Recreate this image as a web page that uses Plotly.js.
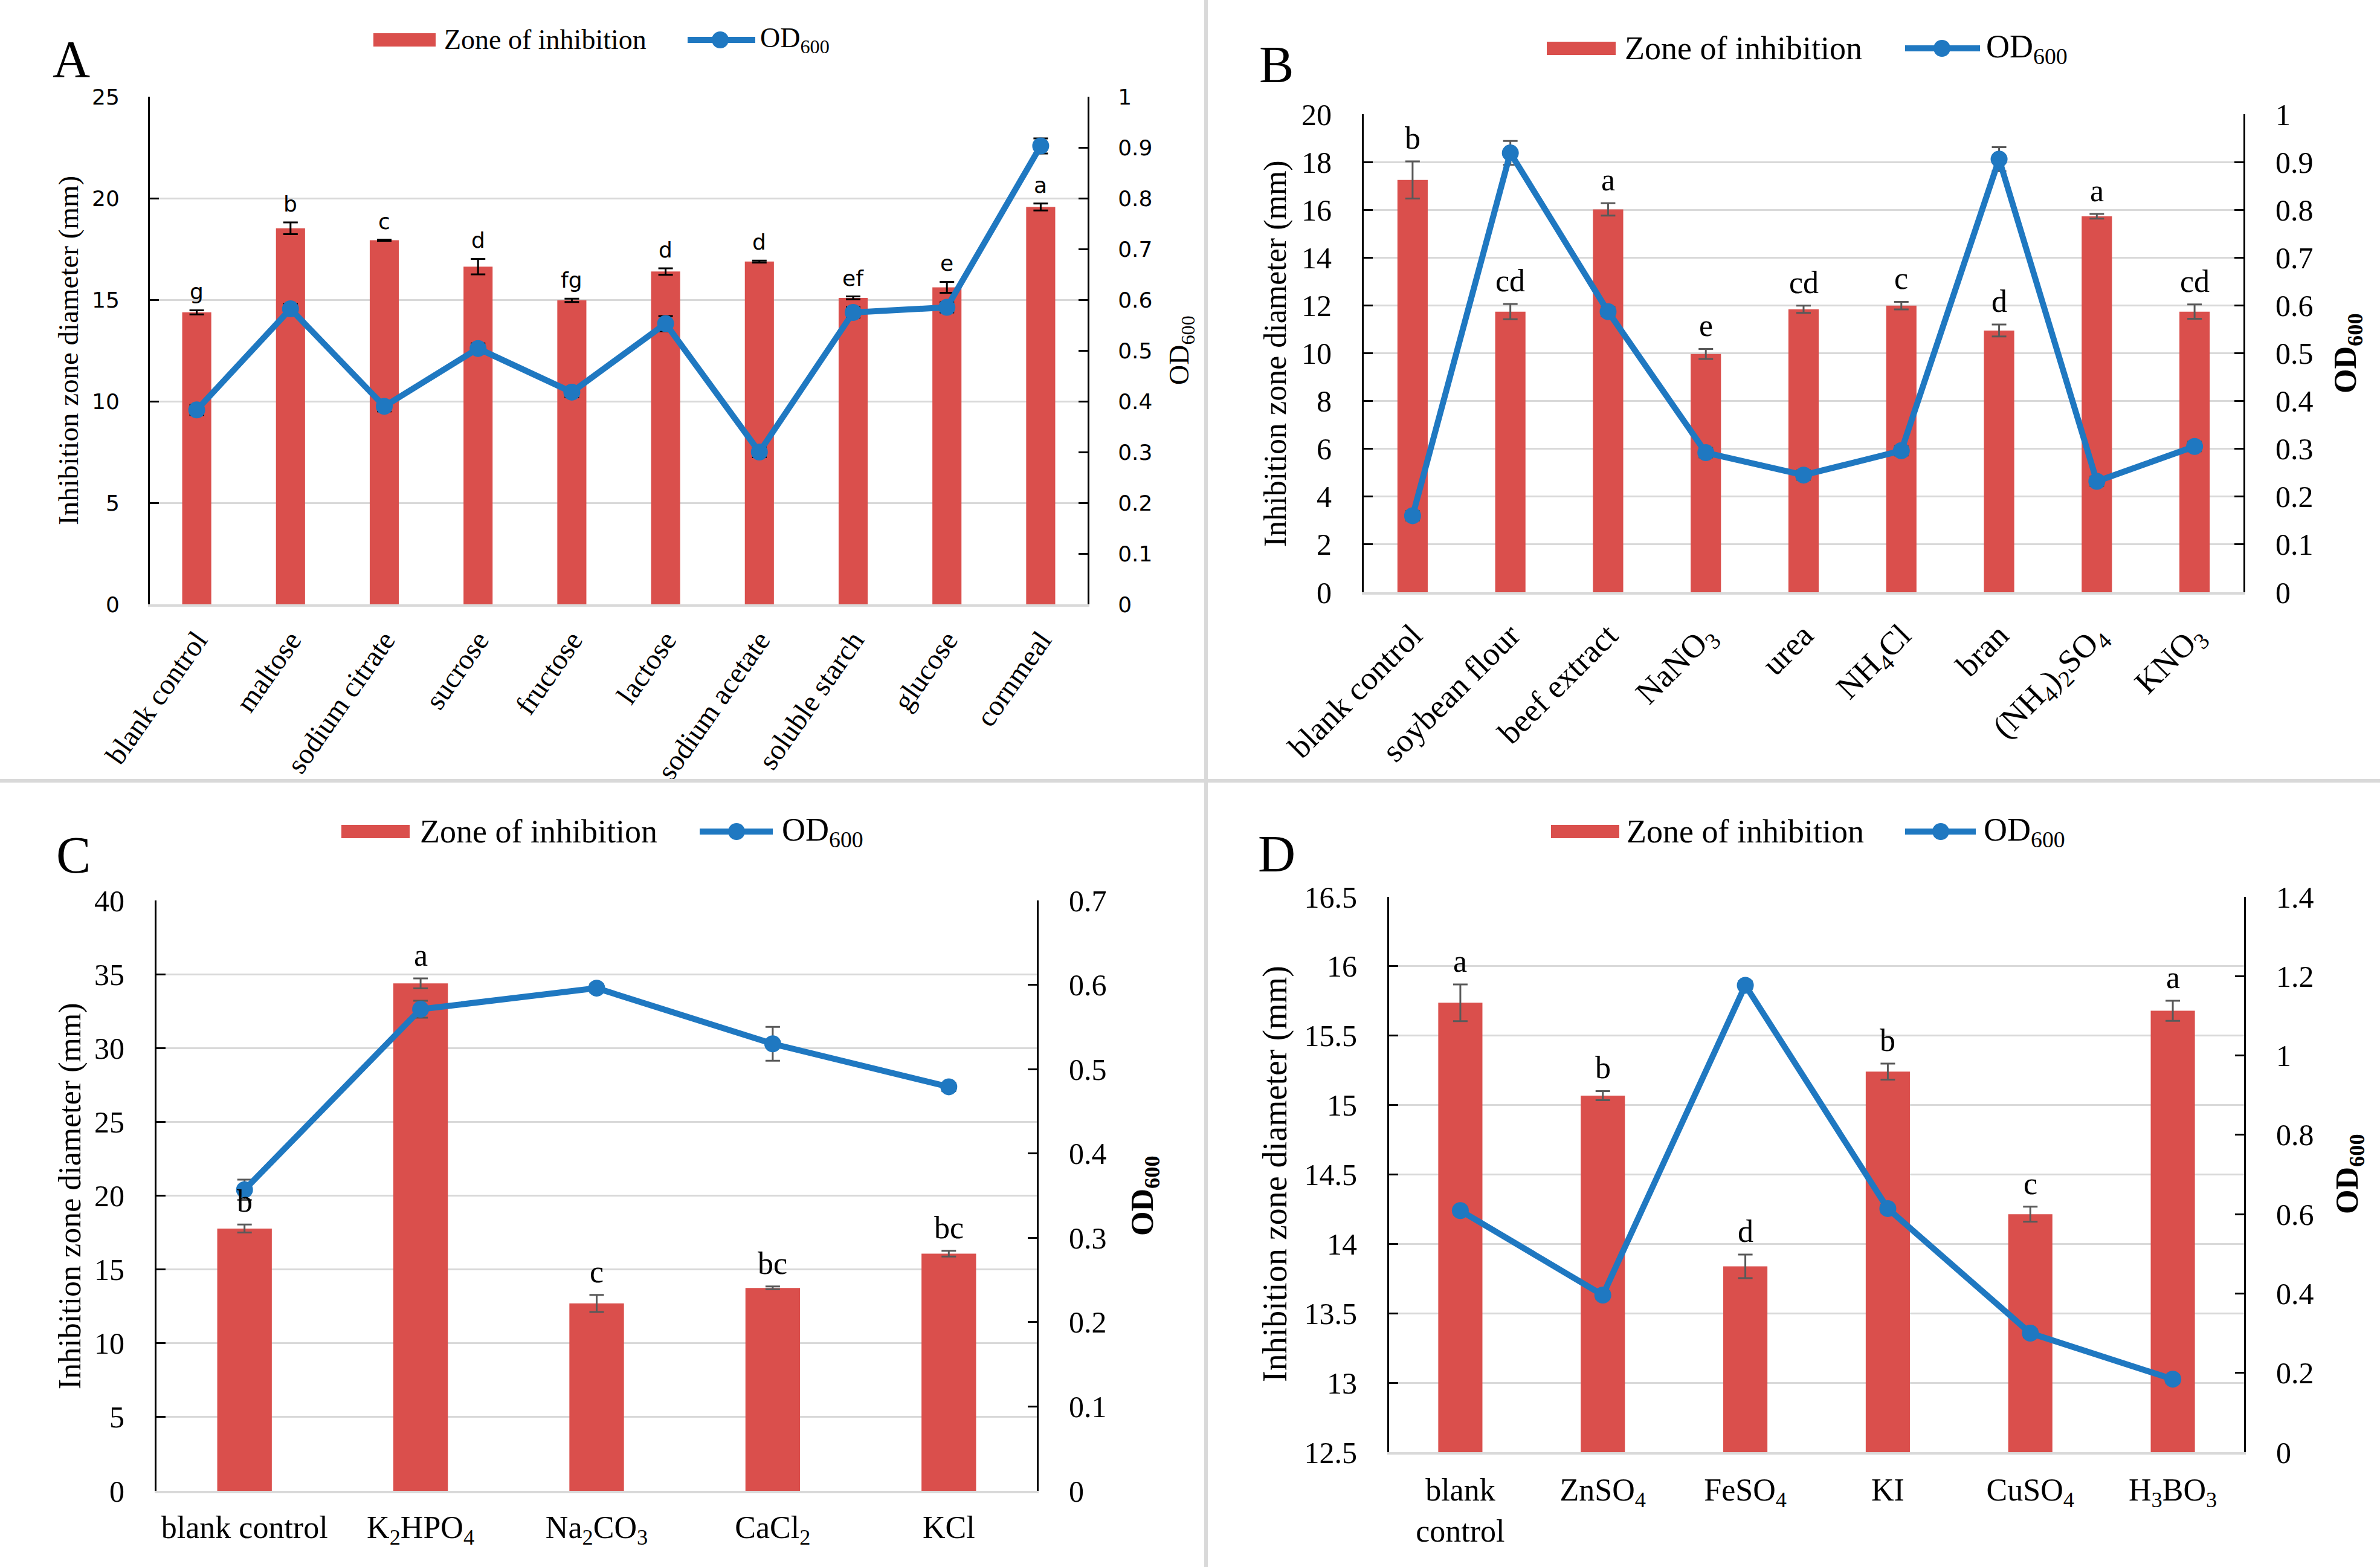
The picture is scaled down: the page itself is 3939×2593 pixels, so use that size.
<!DOCTYPE html>
<html><head><meta charset="utf-8">
<script src="https://cdn.plot.ly/plotly-3.0.1.min.js"></script>
<style>html,body{margin:0;padding:0;background:#fff}#chart{width:3939px;height:2593px}</style>
</head><body><div id="chart"></div><script>
const W = 3939, H = 2593;

// ---------- Panel A: carbon sources ----------
const catsA = ['blank control','maltose','sodium citrate','sucrose','fructose','lactose','sodium acetate','soluble starch','glucose','cornmeal'];
const zoneA = [14.38,18.52,17.93,16.63,14.97,16.39,16.88,15.09,15.61,19.57];
const zoneErrA = [0.10,0.29,0.03,0.38,0.08,0.16,0.05,0.07,0.27,0.17];
const odA = [0.383,0.582,0.390,0.504,0.418,0.553,0.300,0.575,0.585,0.903];
const odErrA = [0.01,0.01,0.01,0.01,0.01,0.015,0.01,0.01,0.01,0.015];
const lettersA = ['g','b','c','d','fg','d','d','ef','e','a'];

// ---------- Panel B: nitrogen sources ----------
const catsB = ['blank control','soybean flour','beef extract','NaNO<sub>3</sub>','urea','NH<sub>4</sub>Cl','bran','(NH<sub>4</sub>)<sub>2</sub>SO<sub>4</sub>','KNO<sub>3</sub>'];
const zoneB = [17.25,11.74,16.02,9.97,11.84,11.99,10.95,15.73,11.74];
const zoneErrB = [0.78,0.32,0.26,0.21,0.15,0.16,0.25,0.10,0.30];
const odB = [0.160,0.919,0.587,0.292,0.245,0.296,0.906,0.232,0.305];
const odErrB = [0.01,0.025,0.01,0.01,0.01,0.01,0.025,0.01,0.01];
const lettersB = ['b','cd','a','e','cd','c','d','a','cd'];

// ---------- Panel C: inorganic salts ----------
const catsC = ['blank control','K<sub>2</sub>HPO<sub>4</sub>','Na<sub>2</sub>CO<sub>3</sub>','CaCl<sub>2</sub>','KCl'];
const zoneC = [17.77,34.38,12.70,13.75,16.07];
const zoneErrC = [0.27,0.34,0.58,0.10,0.19];
const odC = [0.357,0.571,0.596,0.530,0.479];
const odErrC = [0.012,0.01,0.005,0.02,0.005];
const lettersC = ['b','a','c','bc','bc'];

// ---------- Panel D: trace elements ----------
const catsD = ['blank<br>control','ZnSO<sub>4</sub>','FeSO<sub>4</sub>','KI','CuSO<sub>4</sub>','H<sub>3</sub>BO<sub>3</sub>'];
const zoneD = [15.737,15.068,13.838,15.241,14.214,15.679];
const zoneErrD = [0.132,0.033,0.085,0.058,0.054,0.072];
const odD = [0.609,0.396,1.177,0.614,0.300,0.184];
const odErrD = [0.01,0.01,0.01,0.01,0.01,0.01];
const lettersD = ['a','b','d','b','c','a'];

const RED = '#DA4F4C', BLUE = '#1F78C1', GRID = '#d9d9d9';
const SERIF = 'Liberation Serif, Times New Roman, serif';
const SANS = 'DejaVu Sans, Verdana, sans-serif';
const fx = p => p / W, fy = p => 1 - p / H;

const panels = [
  {cats:catsA, zone:zoneA, zerr:zoneErrA, od:odA, oerr:odErrA, lets:lettersA,
   x:'x', y:'y', y2:'y2', box:[248,1800,160,1000], yr:[0,25], dt:5, yr2:[0,1], dt2:0.1,
   tickFont:{family:SANS,size:36,color:'#000'}, catFont:{family:SERIF,size:48,color:'#000'}, angle:-55, catStand:8,
   letFont:{family:SANS,size:36,color:'#000'}, errColor:'#000',
   title:{x:113,y:580,size:47}, title2:{x:1955,y:580,size:46,bold:false},
   tag:{t:'A',x:118,y:98}, leg:{r0:618,r1:721,cy:66,t1:733,l0:1138,l1:1250,m:1192,t2:1256,size:46}},
  {cats:catsB, zone:zoneB, zerr:zoneErrB, od:odB, oerr:odErrB, lets:lettersB,
   x:'x2', y:'y3', y2:'y4', box:[2257,3713,189,980], yr:[0,20], dt:2, yr2:[0,1], dt2:0.1,
   tickFont:{family:SERIF,size:50,color:'#000'}, catFont:{family:SERIF,size:54,color:'#000'}, angle:-45, catStand:14,
   letFont:{family:SERIF,size:52,color:'#000'}, errColor:'#595959',
   title:{x:2111,y:585,size:52}, title2:{x:3885,y:585,size:52,bold:true},
   tag:{t:'B',x:2112,y:107}, leg:{r0:2560,r1:2674,cy:80,t1:2687,l0:3153,l1:3277,m:3214,t2:3285,size:54}},
  {cats:catsC, zone:zoneC, zerr:zoneErrC, od:odC, oerr:odErrC, lets:lettersC,
   x:'x3', y:'y5', y2:'y6', box:[259,1716,1490,2467], yr:[0,40], dt:5, yr2:[0,0.7], dt2:0.1,
   tickFont:{family:SERIF,size:50,color:'#000'}, catFont:{family:SERIF,size:52,color:'#000'}, angle:0, catStand:12,
   letFont:{family:SERIF,size:52,color:'#000'}, errColor:'#595959',
   title:{x:116,y:1979,size:52}, title2:{x:1894,y:1979,size:52,bold:true},
   tag:{t:'C',x:121,y:1415}, leg:{r0:565,r1:678,cy:1376,t1:693,l0:1158,l1:1279,m:1219,t2:1292,size:54}},
  {cats:catsD, zone:zoneD, zerr:zoneErrD, od:odD, oerr:odErrD, lets:lettersD,
   x:'x4', y:'y7', y2:'y8', box:[2299,3714,1484,2403], yr:[12.5,16.5], dt:0.5, yr2:[0,1.4], dt2:0.2,
   tickFont:{family:SERIF,size:50,color:'#000'}, catFont:{family:SERIF,size:52,color:'#000'}, angle:0, catStand:14,
   letFont:{family:SERIF,size:52,color:'#000'}, errColor:'#595959',
   title:{x:2111,y:1943,size:56}, title2:{x:3889,y:1943,size:52,bold:true},
   tag:{t:'D',x:2113,y:1413}, leg:{r0:2567,r1:2680,cy:1376,t1:2690,l0:3153,l1:3270,m:3212,t2:3281,size:54}}
];

const axName = id => id.replace(/^x/, 'xaxis').replace(/^y/, 'yaxis');
const data = [], layout = {
  width: W, height: H, margin:{l:0,r:0,t:0,b:0}, paper_bgcolor:'#fff', plot_bgcolor:'rgba(0,0,0,0)',
  showlegend:false, bargap:0.69, annotations:[], shapes:[]
};

panels.forEach(p => {
  const n = p.cats.length;
  data.push({type:'bar', x:p.cats, y:p.zone, xaxis:p.x, yaxis:p.y, name:'Zone of inhibition',
    marker:{color:RED, line:{width:0}},
    error_y:{type:'data', array:p.zerr, visible:true, color:p.errColor, thickness:3, width:12}});
  data.push({type:'scatter', mode:'lines+markers', x:p.cats, y:p.od, xaxis:p.x, yaxis:p.y2, name:'OD600',
    line:{color:BLUE, width:10}, marker:{color:BLUE, size:28},
    error_y:{type:'data', array:p.oerr, visible:true, color:p.errColor, thickness:3, width:12}, cliponaxis:false});

  layout[axName(p.x)] = {domain:[fx(p.box[0]), fx(p.box[1])], anchor:p.y, type:'category',
    range:[-0.5, n-0.5], showline:true, linecolor:GRID, linewidth:4, ticks:'', showgrid:false, zeroline:false,
    tickangle:p.angle, tickfont:p.catFont, ticklabelstandoff:p.catStand, fixedrange:true};
  layout[axName(p.y)] = {domain:[fy(p.box[3]), fy(p.box[2])], anchor:p.x, range:p.yr, dtick:p.dt, tick0:p.yr[0],
    showgrid:true, gridcolor:GRID, gridwidth:3, zeroline:false, showline:true, linecolor:'#000', linewidth:3,
    ticks:'inside', ticklen:15, tickwidth:3, tickcolor:'#000', tickfont:p.tickFont, ticklabelstandoff:40, fixedrange:true};
  layout[axName(p.y2)] = {overlaying:p.y, side:'right', anchor:p.x, range:p.yr2, dtick:p.dt2, tick0:0,
    showgrid:false, zeroline:false, showline:true, linecolor:'#000', linewidth:3,
    ticks:'inside', ticklen:15, tickwidth:3, tickcolor:'#000', tickfont:p.tickFont, ticklabelstandoff:40, fixedrange:true};

  // significance letters
  p.lets.forEach((t, i) => {
    layout.annotations.push({x:i, y:p.zone[i] + p.zerr[i], xref:p.x, yref:p.y, text:t, showarrow:false,
      yanchor:'bottom', yshift:8, font:p.letFont});
  });
  // axis titles
  layout.annotations.push({x:fx(p.title.x), y:fy(p.title.y), xref:'paper', yref:'paper', textangle:-90,
    text:'Inhibition zone diameter (mm)', showarrow:false, xanchor:'center', yanchor:'middle',
    font:{family:SERIF, size:p.title.size, color:'#000'}});
  layout.annotations.push({x:fx(p.title2.x), y:fy(p.title2.y), xref:'paper', yref:'paper', textangle:-90,
    text:p.title2.bold ? '<b>OD<sub>600</sub></b>' : 'OD<sub>600</sub>', showarrow:false, xanchor:'center', yanchor:'middle',
    font:{family:SERIF, size:p.title2.size, color:'#000'}});
  // panel tag
  layout.annotations.push({x:fx(p.tag.x), y:fy(p.tag.y), xref:'paper', yref:'paper', text:p.tag.t, showarrow:false,
    xanchor:'center', yanchor:'middle', font:{family:SERIF, size:86, color:'#000'}});
  // legend
  const L = p.leg;
  layout.shapes.push({type:'rect', xref:'paper', yref:'paper', x0:fx(L.r0), x1:fx(L.r1), y0:fy(L.cy+11), y1:fy(L.cy-11),
    fillcolor:RED, line:{width:0}});
  layout.shapes.push({type:'line', xref:'paper', yref:'paper', x0:fx(L.l0), x1:fx(L.l1), y0:fy(L.cy), y1:fy(L.cy),
    line:{color:BLUE, width:10}});
  layout.shapes.push({type:'circle', xref:'paper', yref:'paper', x0:fx(L.m-14), x1:fx(L.m+14), y0:fy(L.cy+14), y1:fy(L.cy-14),
    fillcolor:BLUE, line:{width:0}});
  layout.annotations.push({x:fx(L.t1), y:fy(L.cy), xref:'paper', yref:'paper', text:'Zone of inhibition', showarrow:false,
    xanchor:'left', yanchor:'middle', font:{family:SERIF, size:L.size, color:'#000'}});
  layout.annotations.push({x:fx(L.t2), y:fy(L.cy), xref:'paper', yref:'paper', text:'OD<sub>600</sub>', showarrow:false,
    xanchor:'left', yanchor:'middle', font:{family:SERIF, size:L.size, color:'#000'}});
});

// panel dividers
layout.shapes.push({type:'line', xref:'paper', yref:'paper', x0:fx(1996), x1:fx(1996), y0:0, y1:1, line:{color:GRID, width:6}});
layout.shapes.push({type:'line', xref:'paper', yref:'paper', x0:0, x1:1, y0:fy(1292), y1:fy(1292), line:{color:GRID, width:6}});

Plotly.newPlot('chart', data, layout, {staticPlot:true, displayModeBar:false});
</script></body></html>
